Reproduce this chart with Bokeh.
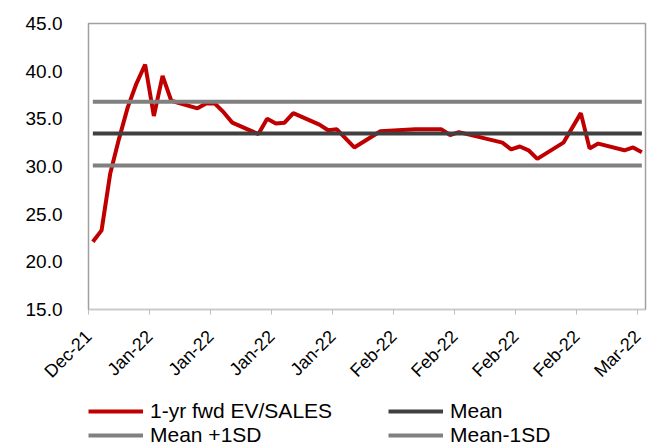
import math
import numpy as np
from bokeh.plotting import figure
from bokeh.layouts import column
from bokeh.models import Legend, LegendItem, FixedTicker, Range1d, NumeralTickFormatter
from bokeh.embed import file_html
from bokeh.resources import INLINE

# ---- data (day offset from first observation, value) ----
day_offsets = [0, 1, 2, 3, 4, 5, 6, 7, 8, 9, 12, 13, 14, 15, 16, 19, 20, 21, 22, 23,
               26, 27, 28, 30, 33, 37, 40, 41, 42, 47, 48, 49, 50, 51, 54, 56, 57, 58,
               61, 62, 63]
ev_sales = [22.1, 23.3, 29.3, 32.9, 36.2, 38.7, 40.7, 35.3, 39.5, 36.9, 36.1, 36.6, 36.6,
            35.7, 34.6, 33.4, 35.0, 34.5, 34.6, 35.6, 34.4, 33.8, 33.9, 32.0, 33.7, 33.9,
            33.9, 33.3, 33.6, 32.5, 31.8, 32.1, 31.7, 30.8, 32.5, 35.6, 31.9, 32.4, 31.7,
            32.0, 31.5]
mean_value = 33.45
sd_value = 3.35
tick_labels = ["Dec-21", "Jan-22", "Jan-22", "Jan-22", "Jan-22",
               "Feb-22", "Feb-22", "Feb-22", "Feb-22", "Mar-22"]
y_ticks = [15, 20, 25, 30, 35, 40, 45]
series_names = ["1-yr fwd EV/SALES", "Mean", "Mean +1SD", "Mean-1SD"]
series_colors = ["#C00000", "#404040", "#808080", "#808080"]

FONT = "Liberation Sans"

x = np.array(day_offsets, dtype=float)
mean_arr = np.full(len(x), mean_value)
up_arr = mean_arr + sd_value
dn_arr = mean_arr - sd_value

p = figure(width=649, height=397, frame_width=557, frame_height=286,
           output_backend="svg", toolbar_location=None,
           x_range=Range1d(-0.5, 63.42), y_range=Range1d(15, 45),
           min_border_left=88, min_border_right=4, min_border_top=23, min_border_bottom=88)
p.xgrid.visible = False
p.ygrid.visible = False
p.outline_line_color = "#A0A0A0"
p.outline_line_width = 1.5
p.background_fill_color = "white"
p.border_fill_color = "white"

p.line(x, ev_sales, line_color=series_colors[0], line_width=4)
p.line(x, mean_arr, line_color=series_colors[1], line_width=4)
p.line(x, up_arr, line_color=series_colors[2], line_width=4)
p.line(x, dn_arr, line_color=series_colors[3], line_width=4)

# y axis
p.yaxis.ticker = FixedTicker(ticks=y_ticks)
p.yaxis.formatter = NumeralTickFormatter(format="0.0")
p.yaxis.major_tick_line_color = None
p.yaxis.major_tick_out = 0
p.yaxis.major_tick_in = 0
p.yaxis.minor_tick_line_color = None
p.yaxis.axis_line_color = "#A0A0A0"
p.yaxis.major_label_standoff = 26
p.yaxis.major_label_text_font = FONT
p.yaxis.major_label_text_font_size = "19px"
p.yaxis.major_label_text_color = "#000000"

# x axis
tick_pos = [7 * k - 0.5 for k in range(len(tick_labels))]
p.xaxis.ticker = FixedTicker(ticks=tick_pos)
p.xaxis.major_label_overrides = {t: lab for t, lab in zip(tick_pos, tick_labels)}
p.xaxis.major_label_orientation = math.pi / 4
p.xaxis.major_tick_out = 5
p.xaxis.major_tick_in = 0
p.xaxis.major_tick_line_color = "#BFBFBF"
p.xaxis.minor_tick_line_color = None
p.xaxis.axis_line_color = "#C8C8C8"
p.xaxis.major_label_standoff = 19
p.xaxis.major_label_text_font = FONT
p.xaxis.major_label_text_font_size = "18px"
p.xaxis.major_label_text_color = "#000000"

# legend strip (separate figure directly under the chart)
lg = figure(width=649, height=51, output_backend="svg", toolbar_location=None,
            x_range=Range1d(0, 1), y_range=Range1d(0, 1),
            x_axis_location=None, y_axis_location=None,
            min_border_left=88, min_border_right=4, min_border_top=0, min_border_bottom=0)
lg.outline_line_color = None
lg.background_fill_color = "white"
lg.border_fill_color = "white"
lg.xgrid.grid_line_color = None
lg.ygrid.grid_line_color = None
lg.grid.visible = False
lg_renderers = [lg.line(x=[np.nan], y=[np.nan], line_color=c, line_width=4)
                for c in series_colors]

legend = Legend(items=[LegendItem(label=n, renderers=[r])
                       for n, r in zip(series_names, lg_renderers)],
                orientation="horizontal", ncols=2, location=(0, 1),
                label_text_font=FONT, label_text_font_size="21px",
                label_text_color="#000000", glyph_width=55, glyph_height=20,
                label_height=20, label_width=238, label_standoff=7, spacing=0,
                padding=0, margin=0, border_line_color=None, background_fill_alpha=0)
lg.add_layout(legend)

layout = column(p, lg, spacing=0)
open("out.html", "w").write(file_html(layout, INLINE))
